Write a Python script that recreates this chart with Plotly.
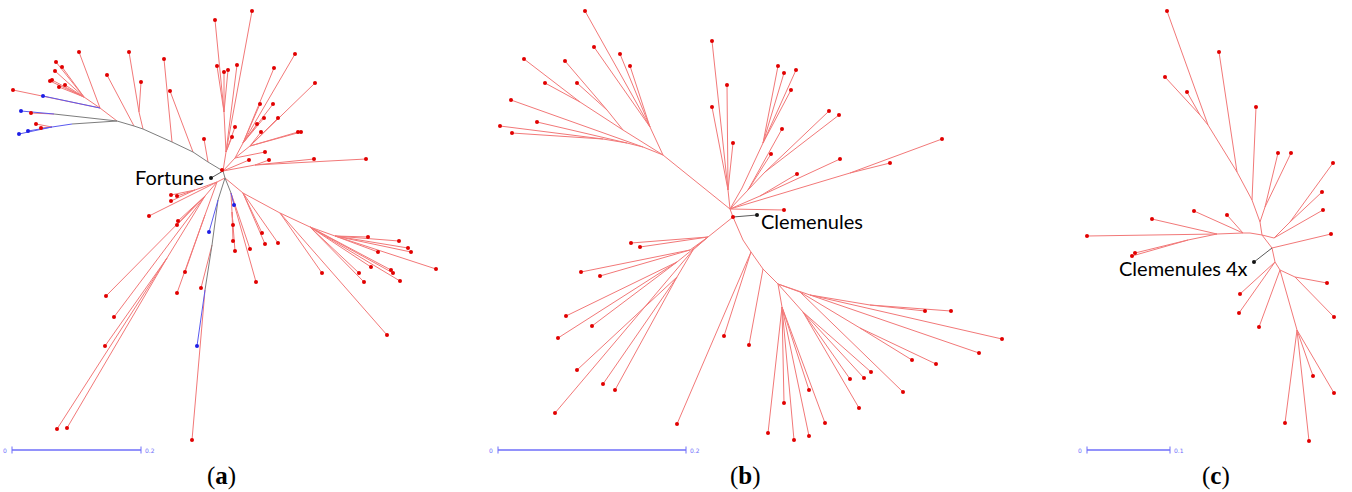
import plotly.graph_objects as go

# ---------------- data: tree nodes (id, parent, x, y, edge kind) ----------------
# edge kinds: r = red, g = gray, b = blue, k = dark label link
TREE_A = [
    ("P0", None, 223, 171, "r"),
    ("P1", "P0", 208, 162, "g"), ("P2", "P1", 193, 152, "g"), ("P3", "P2", 172, 142, "g"),
    ("P4", "P3", 143, 129, "g"), ("P5", "P4", 134, 126, "g"), ("P6", "P5", 117, 121, "g"),
    ("a1", "P1", 204, 139, "r"), ("a2", "P2", 170, 91, "r"), ("a3", "P3", 164, 59, "r"),
    ("Q1", "P4", 139, 112, "r"), ("a4", "Q1", 129, 52, "r"), ("a5", "Q1", 141, 82, "r"),
    ("a6", "P5", 107, 75, "r"),
    ("Q2", "P6", 100, 108, "r"), ("a7", "Q2", 79, 52, "r"),
    ("Q3", "Q2", 84, 97, "r"),
    ("a8", "Q3", 56, 62, "r"), ("a9", "Q3", 62, 67, "r"), ("a10", "Q3", 55, 71, "r"),
    ("a11", "Q3", 50, 81, "r"), ("a12", "Q3", 52, 80, "r"), ("a13", "Q3", 59, 87, "r"),
    ("a14", "Q3", 65, 85, "r"),
    ("a15", "Q2", 13, 90, "r"), ("a16", "Q2", 43, 96, "b"),
    ("U1", "P6", 54, 114, "g"), ("a17", "U1", 31, 113, "r"), ("a18", "U1", 21, 111, "b"),
    ("L1", "P6", 72, 124, "g"), ("L2", "L1", 52, 127, "b"),
    ("a19", "L2", 36, 124, "r"), ("a20", "L2", 41, 128, "r"),
    ("a21", "L2", 28, 131, "b"), ("a22", "L2", 19, 134, "b"),
    ("fortune", "P0", 211, 178, "k"),
    ("R0", "P0", 225, 178, "g"),
    ("UA", "P0", 226, 152, "r"), ("UB", "UA", 224, 112, "r"),
    ("b1", "UB", 215, 20, "r"), ("b2", "UB", 217, 66, "r"), ("b3", "UB", 224, 72, "r"),
    ("b4", "UB", 228, 70, "r"),
    ("b5", "UA", 237, 65, "r"), ("b6", "UA", 252, 11, "r"), ("b7", "UA", 235, 127, "r"),
    ("b8", "UA", 232, 137, "r"),
    ("UC", "P0", 235, 158, "r"), ("UD", "UC", 243, 143, "r"),
    ("c1", "UD", 274, 68, "r"), ("c2", "UD", 295, 54, "r"), ("c3", "UD", 260, 104, "r"),
    ("c4", "UD", 273, 104, "r"), ("c5", "UD", 264, 118, "r"), ("c6", "UD", 257, 124, "r"),
    ("UE", "UC", 250, 146, "r"),
    ("c7", "UE", 315, 83, "r"), ("c8", "UE", 278, 118, "r"), ("c9", "UE", 261, 132, "r"),
    ("c10", "UE", 298, 132, "r"), ("c11", "UE", 301, 132, "r"),
    ("c12", "UC", 265, 152, "r"),
    ("d1", "P0", 249, 160, "r"), ("UF", "P0", 255, 165, "r"),
    ("d2", "UF", 269, 160, "r"), ("d3", "UF", 314, 159, "r"), ("d4", "UF", 366, 159, "r"),
    ("D1", "R0", 218, 200, "g"), ("e1", "D1", 209, 232, "b"),
    ("D3", "D1", 212, 245, "g"), ("e2", "D3", 201, 288, "r"),
    ("D2", "D3", 205, 290, "g"), ("e3", "D2", 197, 346, "b"), ("e4", "D2", 192, 440, "r"),
    ("LA", "R0", 217, 182, "r"), ("LB", "LA", 195, 190, "r"),
    ("f1", "LB", 171, 195, "r"), ("f2", "LB", 177, 196, "r"), ("f3", "LB", 171, 201, "r"),
    ("f4", "LA", 149, 216, "r"),
    ("LC", "LA", 205, 196, "r"),
    ("f5", "LC", 178, 221, "r"), ("f6", "LC", 177, 225, "r"),
    ("f7", "LC", 106, 296, "r"), ("f8", "LC", 114, 317, "r"),
    ("LE", "LC", 167, 258, "r"),
    ("f9", "LE", 105, 346, "r"), ("f10", "LE", 57, 429, "r"), ("f11", "LE", 67, 428, "r"),
    ("LF", "LA", 205, 215, "r"), ("f12", "LF", 185, 272, "r"), ("f13", "LF", 177, 293, "r"),
    ("RA", "R0", 231, 193, "g"), ("g1", "RA", 234, 205, "b"),
    ("RB", "RA", 232, 212, "r"),
    ("g2", "RB", 233, 225, "r"), ("g3", "RB", 233, 241, "r"), ("g4", "RB", 235, 251, "r"),
    ("g5", "RA", 250, 249, "r"), ("g6", "RA", 256, 282, "r"),
    ("RC", "R0", 243, 193, "r"),
    ("g7", "RC", 262, 233, "r"), ("g8", "RC", 265, 244, "r"), ("g9", "RC", 278, 243, "r"),
    ("RD", "RC", 280, 213, "r"), ("g10", "RD", 322, 273, "r"), ("g11", "RD", 387, 335, "r"),
    ("RE", "RD", 310, 227, "r"),
    ("h1", "RE", 359, 273, "r"), ("h2", "RE", 364, 282, "r"), ("h3", "RE", 371, 267, "r"),
    ("h4", "RE", 391, 270, "r"), ("h5", "RE", 393, 273, "r"), ("h6", "RE", 400, 281, "r"),
    ("RF", "RE", 335, 236, "r"),
    ("h7", "RF", 368, 237, "r"), ("h8", "RF", 399, 241, "r"), ("h9", "RF", 408, 248, "r"),
    ("h10", "RF", 411, 252, "r"), ("h11", "RF", 378, 252, "r"), ("h12", "RF", 436, 269, "r"),
]

TREE_B = [
    ("H", None, 730, 209, "r"), ("K", "H", 733, 217, "r"),
    ("M1", "H", 663, 155, "r"), ("M2", "M1", 650, 127, "r"),
    ("i1", "M2", 585, 11, "r"), ("i2", "M2", 594, 47, "r"), ("i3", "M2", 620, 54, "r"),
    ("i4", "M2", 630, 66, "r"),
    ("M3", "M1", 623, 130, "r"), ("M4", "M3", 607, 110, "r"),
    ("i5", "M4", 565, 61, "r"), ("i6", "M4", 577, 83, "r"),
    ("M5", "M3", 580, 102, "r"), ("i7", "M5", 524, 59, "r"), ("i8", "M5", 545, 83, "r"),
    ("M6", "M1", 643, 147, "r"), ("i9", "M6", 511, 100, "r"),
    ("M7", "M6", 627, 143, "r"), ("i10", "M7", 537, 122, "r"),
    ("M8", "M7", 603, 139, "r"), ("i11", "M8", 500, 126, "r"), ("i12", "M8", 512, 133, "r"),
    ("N1", "H", 728, 190, "r"),
    ("j1", "N1", 712, 41, "r"), ("j2", "N1", 727, 85, "r"), ("j3", "N1", 712, 107, "r"),
    ("j4", "N1", 733, 143, "r"),
    ("N2", "H", 742, 188, "r"), ("N3", "N2", 763, 143, "r"),
    ("j5", "N3", 778, 66, "r"), ("j6", "N3", 784, 73, "r"), ("j7", "N3", 796, 70, "r"),
    ("j8", "N3", 791, 90, "r"),
    ("N4", "H", 748, 190, "r"), ("j9", "N4", 782, 129, "r"), ("j10", "N4", 771, 154, "r"),
    ("N5", "N4", 765, 172, "r"), ("j11", "N5", 829, 111, "r"), ("j12", "N5", 839, 115, "r"),
    ("N6", "H", 760, 196, "r"), ("j13", "N6", 840, 159, "r"), ("j14", "N6", 797, 174, "r"),
    ("N7", "H", 850, 173, "r"), ("j15", "N7", 942, 139, "r"), ("j16", "N7", 890, 163, "r"),
    ("j17", "H", 784, 210, "r"),
    ("clem", "K", 757, 215, "k"),
    ("O1", "K", 708, 237, "r"),
    ("k1", "O1", 631, 243, "r"), ("k2", "O1", 640, 247, "r"),
    ("O2", "O1", 690, 250, "r"), ("k3", "O2", 581, 272, "r"), ("k4", "O2", 600, 276, "r"),
    ("O3", "O1", 677, 262, "r"),
    ("k5", "O3", 566, 316, "r"), ("k6", "O3", 592, 326, "r"), ("k7", "O3", 558, 338, "r"),
    ("O4", "O1", 693, 250, "r"), ("k11", "O4", 555, 413, "r"),
    ("O5", "O4", 677, 277, "r"),
    ("k8", "O5", 577, 370, "r"), ("k9", "O5", 603, 384, "r"), ("k10", "O5", 615, 390, "r"),
    ("S1", "K", 743, 240, "r"), ("S2", "S1", 751, 252, "r"),
    ("k12", "S2", 724, 336, "r"), ("k13", "S2", 677, 424, "r"),
    ("S3", "S2", 763, 269, "r"), ("k14", "S3", 749, 345, "r"),
    ("S4", "S3", 778, 284, "r"),
    ("S5", "S4", 782, 307, "r"),
    ("l1", "S5", 768, 433, "r"), ("l2", "S5", 784, 403, "r"), ("l3", "S5", 794, 440, "r"),
    ("l4", "S5", 809, 436, "r"), ("l5", "S5", 809, 390, "r"), ("l6", "S5", 825, 423, "r"),
    ("S6", "S4", 803, 312, "r"),
    ("l7", "S6", 850, 379, "r"), ("l8", "S6", 864, 378, "r"), ("l9", "S6", 871, 372, "r"),
    ("l10", "S6", 859, 408, "r"),
    ("S7", "S4", 800, 292, "r"), ("l11", "S7", 903, 392, "r"),
    ("S8", "S7", 860, 328, "r"), ("l12", "S8", 912, 360, "r"), ("l13", "S8", 936, 364, "r"),
    ("S9", "S4", 810, 295, "r"),
    ("S10", "S9", 870, 305, "r"), ("l14", "S10", 925, 311, "r"), ("l15", "S10", 951, 311, "r"),
    ("l16", "S9", 979, 353, "r"), ("l17", "S9", 1002, 339, "r"),
]

TREE_C = [
    ("C0", None, 1262, 235, "r"),
    ("C1", "C0", 1260, 222, "r"), ("C2", "C1", 1252, 200, "r"), ("C3", "C2", 1237, 172, "r"),
    ("C4", "C3", 1208, 125, "r"), ("m1", "C4", 1167, 11, "r"),
    ("C5", "C4", 1200, 115, "r"), ("m2", "C5", 1165, 77, "r"), ("m3", "C5", 1187, 92, "r"),
    ("m4", "C3", 1219, 52, "r"), ("m5", "C2", 1256, 107, "r"),
    ("C6", "C1", 1265, 207, "r"), ("m6", "C6", 1278, 153, "r"), ("m7", "C6", 1291, 153, "r"),
    ("C7", "C0", 1250, 233, "r"), ("C8", "C7", 1243, 233, "r"),
    ("m8", "C8", 1194, 211, "r"), ("m9", "C8", 1227, 215, "r"),
    ("C9", "C8", 1217, 234, "r"), ("m10", "C9", 1087, 236, "r"), ("m11", "C9", 1152, 219, "r"),
    ("C10", "C9", 1188, 240, "r"), ("m12", "C10", 1132, 256, "r"), ("m13", "C10", 1135, 253, "r"),
    ("C11", "C0", 1274, 238, "r"), ("C12", "C11", 1290, 222, "r"),
    ("m14", "C12", 1333, 163, "r"), ("m15", "C12", 1322, 192, "r"), ("m16", "C11", 1323, 210, "r"),
    ("CK", "C0", 1272, 248, "r"), ("m17", "CK", 1331, 234, "r"),
    ("c4x", "CK", 1254, 262, "k"),
    ("CD1", "CK", 1275, 262, "r"), ("n1", "CD1", 1240, 294, "r"), ("n2", "CD1", 1239, 313, "r"),
    ("CD2", "CD1", 1280, 270, "r"), ("n3", "CD2", 1259, 327, "r"),
    ("CD3", "CD2", 1295, 277, "r"), ("n4", "CD3", 1327, 283, "r"), ("n5", "CD3", 1334, 317, "r"),
    ("CD4", "CD2", 1297, 330, "r"),
    ("n6", "CD4", 1313, 376, "r"), ("n7", "CD4", 1334, 393, "r"),
    ("n8", "CD4", 1285, 423, "r"), ("n9", "CD4", 1309, 441, "r"),
]

EXTRA_DOTS_X = [222, 733]
EXTRA_DOTS_Y = [170, 217]

# labels
LABEL_TEXT = ["Fortune", "Clemenules", "Clemenules 4x"]
LABEL_X = [206, 759, 1250]
LABEL_Y = [177, 221, 268]
LABEL_ANCHOR = ["right", "left", "right"]

CAPTIONS = ["a", "b", "c"]
CAPTION_X = [221, 745, 1216]
CAPTION_Y = [476, 476, 476]

SCALE_X0 = [12, 498, 1087]
SCALE_X1 = [141, 686, 1170]
SCALE_Y = [450, 450, 450]
SCALE_LABEL = ["0.2", "0.2", "0.1"]

EDGE_COLORS = {"r": "rgb(242,120,120)", "g": "rgb(125,125,125)",
               "b": "rgb(90,90,240)", "k": "rgb(90,90,90)"}
DOT_COLORS = {"r": "rgb(225,0,0)", "g": "rgb(60,60,60)",
              "b": "rgb(30,30,230)", "k": "rgb(20,20,20)"}

fig = go.Figure()

edge_xy = {k: ([], []) for k in EDGE_COLORS}
dot_xy = {k: ([], []) for k in DOT_COLORS}
for tree in (TREE_A, TREE_B, TREE_C):
    pos = {nid: (x, y) for nid, _, x, y, _ in tree}
    parents = {p for _, p, _, _, _ in tree if p is not None}
    for nid, par, x, y, kind in tree:
        if par is not None:
            px, py = pos[par]
            edge_xy[kind][0].extend([px, x, None])
            edge_xy[kind][1].extend([py, y, None])
        if nid not in parents and par is not None:
            dot_xy[kind][0].append(x)
            dot_xy[kind][1].append(y)

for kind in ["r", "g", "b", "k"]:
    xs, ys = edge_xy[kind]
    if xs:
        fig.add_trace(go.Scatter(x=xs, y=ys, mode="lines",
                                 line=dict(color=EDGE_COLORS[kind], width=1),
                                 hoverinfo="skip", showlegend=False))

dot_xy["r"][0].extend(EXTRA_DOTS_X)
dot_xy["r"][1].extend(EXTRA_DOTS_Y)
for kind in ["r", "b", "k"]:
    xs, ys = dot_xy[kind]
    if xs:
        fig.add_trace(go.Scatter(x=xs, y=ys, mode="markers",
                                 marker=dict(color=DOT_COLORS[kind], size=4),
                                 hoverinfo="skip", showlegend=False))

# scale bars
for x0, x1, y, lab in zip(SCALE_X0, SCALE_X1, SCALE_Y, SCALE_LABEL):
    fig.add_trace(go.Scatter(x=[x0, x1], y=[y, y], mode="lines+markers",
                             line=dict(color="rgb(110,110,250)", width=1.5),
                             marker=dict(symbol="line-ns", size=5,
                                         line=dict(color="rgb(110,110,250)", width=1)),
                             hoverinfo="skip", showlegend=False))
    fig.add_annotation(x=x0 - 3, y=y, text="0", showarrow=False, xanchor="right",
                       font=dict(family="DejaVu Sans", size=6, color="rgb(110,110,250)"))
    fig.add_annotation(x=x1 + 2, y=y, text=lab, showarrow=False, xanchor="left",
                       font=dict(family="DejaVu Sans", size=6, color="rgb(110,110,250)"))

for t, x, y, a in zip(LABEL_TEXT, LABEL_X, LABEL_Y, LABEL_ANCHOR):
    fig.add_annotation(x=x, y=y, text=t, showarrow=False, xanchor=a, yanchor="middle",
                       font=dict(family="Lato", size=20, color="black"))

for c, x, y in zip(CAPTIONS, CAPTION_X, CAPTION_Y):
    fig.add_annotation(x=x, y=y, text="(<b>" + c + "</b>)", showarrow=False,
                       xanchor="center", yanchor="middle",
                       font=dict(family="Liberation Serif", size=25, color="black"))

fig.update_layout(
    width=1352, height=492,
    margin=dict(l=0, r=0, t=0, b=0),
    plot_bgcolor="white", paper_bgcolor="white",
    xaxis=dict(range=[0, 1352], visible=False, fixedrange=True),
    yaxis=dict(range=[492, 0], visible=False, fixedrange=True),
)

fig.write_html("out.html", config={"displayModeBar": False},
               post_script="document.body.style.margin='0';document.body.style.overflow='hidden';")
